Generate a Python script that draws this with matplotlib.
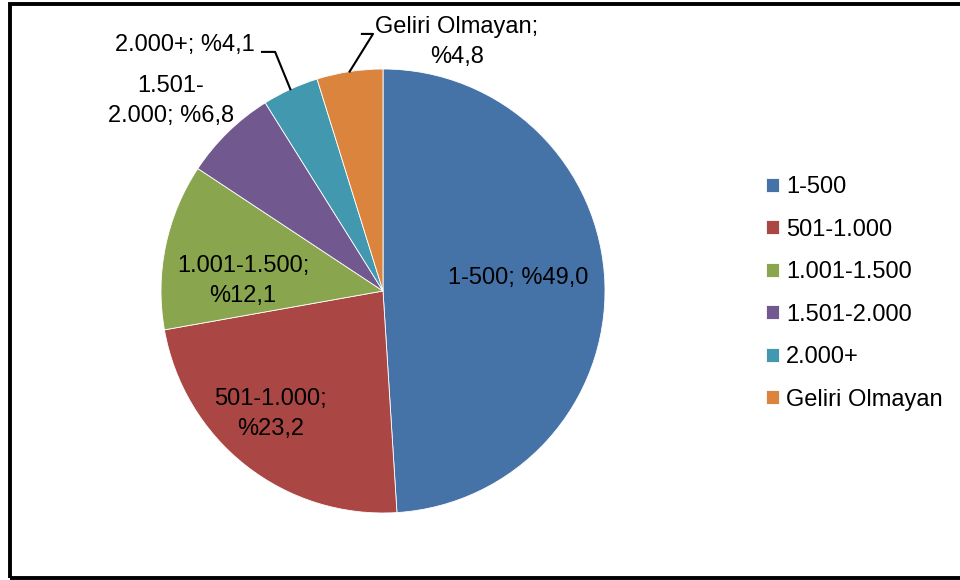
import matplotlib.pyplot as plt
import numpy as np
from matplotlib.patches import Rectangle

plt.rcParams['font.family'] = ['Liberation Sans', 'DejaVu Sans']

categories = ["1-500", "501-1.000", "1.001-1.500", "1.501-2.000", "2.000+", "Geliri Olmayan"]
shares = [49.0, 23.2, 12.1, 6.8, 4.1, 4.8]
colors = ["#4572A7", "#AA4643", "#89A54E", "#71588F", "#4198AF", "#DB843D"]
labels = ["1-500; %49,0", "501-1.000;\n%23,2", "1.001-1.500;\n%12,1",
          "1.501-\n2.000; %6,8", "2.000+; %4,1", "Geliri Olmayan;\n%4,8"]

fig = plt.figure(figsize=(9.6, 5.8), dpi=100)
ax = fig.add_axes([161 / 960, 67 / 580, 444 / 960, 444 / 580])

wedges, _ = ax.pie(shares, colors=colors, startangle=90, counterclock=False,
                   radius=1, wedgeprops=dict(edgecolor="white", linewidth=0.6))
ax.set_xlim(-1, 1)
ax.set_ylim(-1, 1)
ax.set_aspect("equal")
ax.axis("off")

fs = 17
ls = 1.5
# labels inside / near the slices
ax.text(0.608, 0.059, labels[0], ha="center", va="center", fontsize=fs)
ax.text(-0.505, -0.554, labels[1], ha="center", va="center", fontsize=fs, linespacing=ls)
ax.text(-0.631, 0.045, labels[2], ha="center", va="center", fontsize=fs, linespacing=ls)
ax.text(-0.955, 0.856, labels[3], ha="center", va="center", fontsize=fs, linespacing=ls)
ax.text(-0.577, 1.108, labels[4], ha="right", va="center", fontsize=fs)
ax.text(0.333, 1.122, labels[5], ha="center", va="center", fontsize=fs, linespacing=ls)

# leader lines for the two small slices
for w, elbow, end in [(wedges[4], (-0.486, 1.077), (-0.545, 1.077)),
                      (wedges[5], (-0.045, 1.158), (-0.095, 1.158))]:
    mid = np.deg2rad((w.theta1 + w.theta2) / 2)
    ax.plot([np.cos(mid), elbow[0], end[0]], [np.sin(mid), elbow[1], end[1]],
            color="black", lw=1.5, clip_on=False)

fig.legend(wedges, categories, loc="upper left", bbox_to_anchor=(766 / 960, 1 - 176 / 580),
           frameon=False, fontsize=fs, handlelength=0.55, handleheight=0.55,
           handletextpad=0.3, labelspacing=0.87, borderpad=0, borderaxespad=0)

fig.add_artist(Rectangle((10 / 960, 2 / 580), 1.0, 1 - 5.5 / 580, transform=fig.transFigure,
                         fill=False, edgecolor="black", lw=2.8, clip_on=False))

fig.savefig("out.png", dpi=100)
